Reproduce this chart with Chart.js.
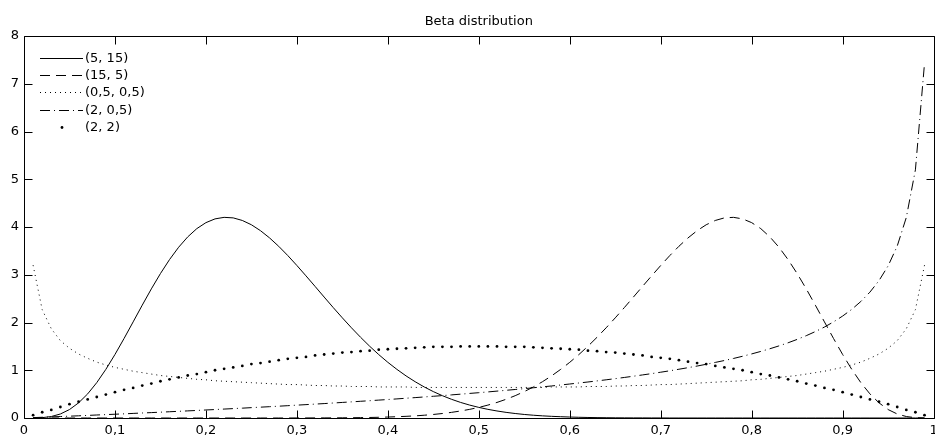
<!DOCTYPE html>
<html>
<head>
<meta charset="utf-8">
<title>Beta distribution</title>
<script src="https://cdn.jsdelivr.net/npm/chart.js@4.4.1/dist/chart.umd.min.js"></script>
<style>
html, body { margin: 0; padding: 0; background: #fff; }
#contenedor { width: 935px; height: 439px; }
</style>
</head>
<body>
<div id="contenedor"><canvas id="Grafico1" width="935" height="439"></canvas></div>
<script>
// puntos de muestreo en x
const xs = [
    0.01,0.02,0.03,0.04,0.05,0.06,0.07,0.08,0.09,0.10,
    0.11,0.12,0.13,0.14,0.15,0.16,0.17,0.18,0.19,0.20,
    0.21,0.22,0.23,0.24,0.25,0.26,0.27,0.28,0.29,0.30,
    0.31,0.32,0.33,0.34,0.35,0.36,0.37,0.38,0.39,0.40,
    0.41,0.42,0.43,0.44,0.45,0.46,0.47,0.48,0.49,0.50,
    0.51,0.52,0.53,0.54,0.55,0.56,0.57,0.58,0.59,0.60,
    0.61,0.62,0.63,0.64,0.65,0.66,0.67,0.68,0.69,0.70,
    0.71,0.72,0.73,0.74,0.75,0.76,0.77,0.78,0.79,0.80,
    0.81,0.82,0.83,0.84,0.85,0.86,0.87,0.88,0.89,0.90,
    0.91,0.92,0.93,0.94,0.95,0.96,0.97,0.98,0.99
];

const nombres = ['(5, 15)', '(15, 5)', '(0,5, 0,5)', '(2, 0,5)', '(2, 2)'];

const beta_5_15 = [
    0.001,0.007,0.031,0.084,0.177,0.317,0.505,0.741,1.019,1.330,
    1.665,2.013,2.363,2.704,3.025,3.318,3.576,3.793,3.966,4.091,
    4.170,4.202,4.191,4.137,4.047,3.923,3.771,3.596,3.402,3.194,
    2.977,2.756,2.533,2.312,2.097,1.889,1.691,1.503,1.328,1.166,
    1.018,0.882,0.760,0.650,0.553,0.467,0.392,0.326,0.270,0.222,
    0.181,0.147,0.118,0.094,0.074,0.058,0.045,0.035,0.027,0.020,
    0.015,0.011,0.008,0.006,0.004,0.003,0.002,0.002,0.001,0.001,
    0,0,0,0,0,0,0,0,0,0,
    0,0,0,0,0,0,0,0,0,0,
    0,0,0,0,0,0,0,0,0
];

const beta_15_5 = [
    0,0,0,0,0,0,0,0,0,0,
    0,0,0,0,0,0,0,0,0,0,
    0,0,0,0,0,0,0,0,0,
    0.001,0.001,0.002,0.002,0.003,0.004,0.006,0.008,0.011,0.015,
    0.020,0.027,0.035,0.045,0.058,0.074,0.094,0.118,0.147,0.181,
    0.222,0.270,0.326,0.392,0.467,0.553,0.650,0.760,0.882,1.018,
    1.166,1.328,1.503,1.691,1.889,2.097,2.312,2.533,2.756,2.977,
    3.194,3.402,3.596,3.771,3.923,4.047,4.137,4.191,4.202,4.170,
    4.091,3.966,3.793,3.576,3.318,3.025,2.704,2.363,2.013,1.665,
    1.330,1.019,0.741,0.505,0.317,0.177,0.084,0.031,0.007,0.001
];

const beta_05_05 = [
    3.20,2.27,1.87,1.62,1.46,1.34,1.25,1.17,1.11,1.06,
    1.02,0.98,0.95,0.92,0.89,0.87,0.85,0.83,0.81,0.80,
    0.78,0.77,0.76,0.75,0.74,0.73,0.72,0.71,0.70,0.70,
    0.69,0.68,0.68,0.67,0.67,0.66,0.66,0.66,0.65,0.65,
    0.65,0.65,0.64,0.64,0.64,0.64,0.64,0.64,0.64,0.64,
    0.64,0.64,0.64,0.64,0.64,0.64,0.64,0.65,0.65,0.65,
    0.65,0.66,0.66,0.66,0.67,0.67,0.68,0.68,0.69,0.70,
    0.70,0.71,0.72,0.73,0.74,0.75,0.76,0.77,0.78,0.80,
    0.81,0.83,0.85,0.87,0.89,0.92,0.95,0.98,1.02,1.06,
    1.11,1.17,1.25,1.34,1.46,1.62,1.87,2.27,3.20
];

const beta_2_05 = [
    0.008,0.015,0.023,0.031,0.038,0.046,0.054,0.063,0.071,0.079,
    0.087,0.096,0.105,0.113,0.122,0.131,0.140,0.149,0.158,0.168,
    0.177,0.187,0.197,0.206,0.217,0.227,0.237,0.247,0.258,0.269,
    0.280,0.291,0.302,0.314,0.326,0.338,0.350,0.362,0.375,0.387,
    0.400,0.414,0.427,0.441,0.455,0.469,0.484,0.499,0.515,0.530,
    0.546,0.563,0.580,0.597,0.615,0.633,0.652,0.671,0.691,0.712,
    0.733,0.754,0.777,0.800,0.824,0.849,0.875,0.902,0.929,0.959,
    0.989,1.021,1.054,1.088,1.125,1.164,1.204,1.247,1.293,1.342,
    1.394,1.450,1.510,1.575,1.646,1.724,1.810,1.905,2.013,2.135,
    2.275,2.440,2.636,2.878,3.186,3.600,4.200,5.197,7.425
];

const beta_2_2 = [
    0.06,0.12,0.17,0.23,0.29,0.34,0.39,0.44,0.49,0.54,
    0.59,0.63,0.68,0.72,0.77,0.81,0.85,0.89,0.92,0.96,
    1.00,1.03,1.06,1.09,1.13,1.15,1.18,1.21,1.24,1.26,
    1.28,1.31,1.33,1.35,1.37,1.38,1.40,1.41,1.43,1.44,
    1.45,1.46,1.47,1.48,1.49,1.49,1.49,1.50,1.50,1.50,
    1.50,1.50,1.49,1.49,1.49,1.48,1.47,1.46,1.45,1.44,
    1.43,1.41,1.40,1.38,1.37,1.35,1.33,1.31,1.28,1.26,
    1.24,1.21,1.18,1.15,1.13,1.09,1.06,1.03,1.00,0.96,
    0.92,0.89,0.85,0.81,0.77,0.72,0.68,0.63,0.59,0.54,
    0.49,0.44,0.39,0.34,0.29,0.23,0.17,0.12,0.06
];

const xTicks = [0, 0.1, 0.2, 0.3, 0.4, 0.5, 0.6, 0.7, 0.8, 0.9, 1];
const xTickLabels = ['0','0,1','0,2','0,3','0,4','0,5','0,6','0,7','0,8','0,9','1'];
const yTicks = [0, 1, 2, 3, 4, 5, 6, 7, 8];
const yTickLabels = ['0','1','2','3','4','5','6','7','8'];

const fuente = "'DejaVu Sans', sans-serif";

function puntos(arr){
    return xs.map((x, i) => ({x: x, y: arr[i]}));
}

// caja de ejes con marcas hacia dentro (estilo matlab)
const cajaEjes = {
    id: 'cajaEjes',
    afterDraw(chart){
        const ctx = chart.ctx;
        const a = chart.chartArea;
        const sx = chart.scales.x, sy = chart.scales.y;
        const L = Math.round(a.left) + 0.5, R = Math.round(a.right) + 0.5;
        const T = Math.round(a.top) + 0.5, B = Math.round(a.bottom) + 0.5;
        const largo = 8;
        ctx.save();
        ctx.strokeStyle = '#000';
        ctx.lineWidth = 1;
        ctx.setLineDash([]);
        ctx.beginPath();
        ctx.moveTo(L, T); ctx.lineTo(R, T); ctx.lineTo(R, B); ctx.lineTo(L, B); ctx.closePath();
        xTicks.forEach(v => {
            const px = Math.round(sx.getPixelForValue(v)) + 0.5;
            ctx.moveTo(px, B); ctx.lineTo(px, B - largo);
            ctx.moveTo(px, T); ctx.lineTo(px, T + largo);
        });
        yTicks.forEach(v => {
            const py = Math.round(sy.getPixelForValue(v)) + 0.5;
            ctx.moveTo(L, py); ctx.lineTo(L + largo, py);
            ctx.moveTo(R, py); ctx.lineTo(R - largo, py);
        });
        ctx.stroke();

        // leyenda
        ctx.font = '13px ' + fuente;
        ctx.fillStyle = '#000';
        ctx.textBaseline = 'middle';
        chart.data.datasets.forEach((ds, i) => {
            const yy = Math.round(58 + i * 17.2) + 0.5;
            if (ds.showLine === false){
                ctx.beginPath();
                ctx.arc(62, yy, ds.pointRadius, 0, Math.PI * 2);
                ctx.fill();
            } else {
                ctx.beginPath();
                ctx.setLineDash(ds.borderDash || []);
                ctx.moveTo(40, yy); ctx.lineTo(83, yy);
                ctx.stroke();
                ctx.setLineDash([]);
            }
            ctx.fillText(ds.label, 85, yy);
        });
        ctx.restore();
    }
};

let CanvasG1 = document.getElementById('Grafico1').getContext('2d');

let datos = {
    datasets: [
        {label: nombres[0], data: puntos(beta_5_15), borderColor: '#000', borderWidth: 1, pointRadius: 0},
        {label: nombres[1], data: puntos(beta_15_5), borderColor: '#000', borderWidth: 1, pointRadius: 0, borderDash: [10, 6]},
        {label: nombres[2], data: puntos(beta_05_05), borderColor: '#000', borderWidth: 1, pointRadius: 0, borderDash: [1, 4]},
        {label: nombres[3], data: puntos(beta_2_05), borderColor: '#000', borderWidth: 1, pointRadius: 0, borderDash: [10, 4, 1, 4]},
        {label: nombres[4], data: puntos(beta_2_2), showLine: false, pointRadius: 1.4, pointBorderWidth: 0,
            pointBackgroundColor: '#000', pointHoverRadius: 0}
    ]
};

let opciones = {
    responsive: false,
    animation: false,
    devicePixelRatio: 1,
    events: [],
    layout: {padding: 0},
    plugins: {
        legend: {display: false},
        tooltip: {enabled: false},
        title: {
            display: true,
            text: 'Beta distribution',
            fullSize: false,
            color: '#000',
            font: {family: fuente, size: 13, weight: 'normal', lineHeight: 1.2},
            padding: {top: 14, bottom: 6.4}
        }
    },
    scales: {
        x: {
            type: 'linear',
            min: 0,
            max: 1,
            grid: {display: false, drawTicks: false},
            border: {display: false},
            afterBuildTicks: s => { s.ticks = xTicks.map(v => ({value: v})); },
            afterFit: s => { s.height = 21; s.paddingLeft = 0; s.paddingRight = 0; },
            ticks: {
                autoSkip: false,
                maxRotation: 0,
                padding: 5,
                color: '#000',
                font: {family: fuente, size: 13},
                callback: (v, i) => xTickLabels[i]
            }
        },
        y: {
            min: 0,
            max: 8,
            grid: {display: false, drawTicks: false},
            border: {display: false},
            afterBuildTicks: s => { s.ticks = yTicks.map(v => ({value: v})); },
            afterFit: s => { s.width = 24; s.paddingTop = 0; s.paddingBottom = 0; },
            ticks: {
                padding: 5,
                color: '#000',
                font: {family: fuente, size: 13},
                callback: (v, i) => yTickLabels[i]
            }
        }
    }
};

let G1 = new Chart(CanvasG1, {
    type: 'line',
    data: datos,
    options: opciones,
    plugins: [cajaEjes]
});
</script>
</body>
</html>
